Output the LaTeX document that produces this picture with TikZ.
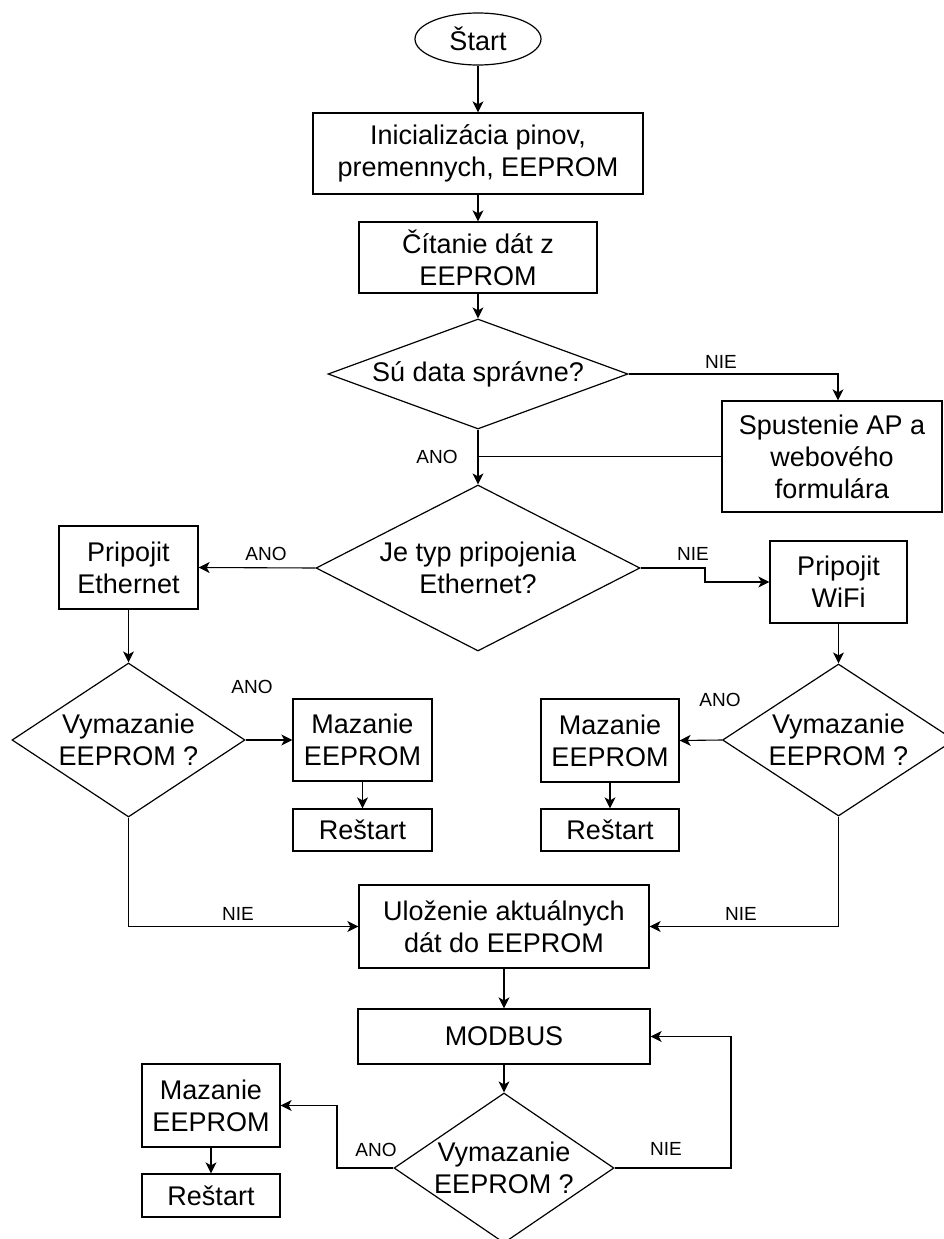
\documentclass[tikz,border=0pt]{standalone}
\usepackage{fontspec}
\setmainfont{Liberation Sans}
\usetikzlibrary{shapes.geometric,arrows.meta}
\newcommand\bxfont{\fontsize{27}{32}\selectfont}
\newcommand\lbfont{\fontsize{19}{22}\selectfont}
\begin{document}
\begin{tikzpicture}[x=1pt,y=-1pt,
  box/.style={draw, line width=1.3pt, rectangle, inner sep=0pt, align=center, font=\bxfont},
  startel/.style={draw, line width=1.2pt, ellipse, inner sep=0pt, font=\bxfont},
  dia/.style={draw, line width=1.2pt, diamond, inner sep=0pt},
  dtext/.style={align=center, font=\bxfont, inner sep=0pt},
  lbl/.style={font=\lbfont, inner sep=0pt},
  arr/.style={draw, line width=1.1pt, -{Stealth[length=11pt,width=11pt,inset=3pt]}},
  ln/.style={draw, line width=1.1pt}]
\useasboundingbox (0,0) rectangle (943,1239);

% nodes
\node[startel, minimum width=126pt, minimum height=52pt] (start) at (478,39) {Štart};
\node[box, minimum width=330pt, minimum height=81pt] (init) at (478,153.5) {Inicializácia pinov,\\premennych, EEPROM};
\node[box, minimum width=238pt, minimum height=71pt] (read) at (478,257.5) {Čítanie dát z\\EEPROM};
\node[dia, minimum width=300pt, minimum height=110pt, label={[dtext]center:{Sú data správne?}}] (d1) at (478,374) {};
\node[box, minimum width=220pt, minimum height=111pt] (ap) at (832,456.5) {Spustenie AP a\\webového\\formulára};
\node[dia, minimum width=324pt, minimum height=166pt, label={[dtext]center:{Je typ pripojenia\\Ethernet?}}] (d2) at (478,568) {};
\node[box, minimum width=139pt, minimum height=83pt] (eth) at (128.5,567.5) {Pripojit\\Ethernet};
\node[box, minimum width=137pt, minimum height=82pt] (wifi) at (838.5,582) {Pripojit\\WiFi};
\node[dia, minimum width=233pt, minimum height=154pt, label={[dtext]center:{Vymazanie\\EEPROM ?}}] (d3) at (128.5,740) {};
\node[box, minimum width=139pt, minimum height=82pt] (mazL) at (362.5,740) {Mazanie\\EEPROM};
\node[box, minimum width=139pt, minimum height=42pt] (resL) at (362.5,830) {Reštart};
\node[dia, minimum width=232pt, minimum height=152pt, label={[dtext]center:{Vymazanie\\EEPROM ?}}] (d4) at (838.5,740) {};
\node[box, minimum width=138pt, minimum height=83pt] (mazR) at (610,740.5) {Mazanie\\EEPROM};
\node[box, minimum width=138pt, minimum height=42pt] (resR) at (610,830) {Reštart};
\node[box, minimum width=290pt, minimum height=83pt] (ulo) at (504,926.5) {Uloženie aktuálnych\\dát do EEPROM};
\node[box, minimum width=292pt, minimum height=55pt] (mod) at (504,1036.5) {MODBUS};
\node[dia, minimum width=220pt, minimum height=150pt, label={[dtext]center:{Vymazanie\\EEPROM ?}}] (d5) at (504,1168) {};
\node[box, minimum width=138pt, minimum height=83pt] (mazB) at (211,1105.5) {Mazanie\\EEPROM};
\node[box, minimum width=138pt, minimum height=43pt] (resB) at (211,1195.5) {Reštart};

% connectors
\draw[arr] (start) -- (init);
\draw[arr] (init) -- (read);
\draw[arr] (read.south) -- (d1.north);
\draw[arr] (d1.east) -| ([xshift=6pt]ap.north);
\node[lbl] (nie1) at (721,362) {NIE};
\draw[ln] (ap.west) -- (ap.west -| d1.south);
\draw[arr] (d1.south) -- (d2.north);
\node[lbl] (ano1) at (437,457) {ANO};
\draw[arr] (d2.west) -- (eth.east);
\node[lbl] (ano2) at (266,554) {ANO};
\coordinate (j1) at (705,568);
\draw[arr] (d2.east) -- (j1) |- (wifi.west);
\node[lbl] (nie2) at (693,554) {NIE};
\draw[arr] (eth.south) -- (d3.north);
\draw[arr] (d3.east) -- (mazL.west);
\node[lbl] (ano3) at (252,687) {ANO};
\draw[arr] (mazL) -- (resL);
\draw[arr] (wifi.south) -- (d4.north);
\draw[arr] (d4.west) -- (mazR.east);
\node[lbl] (ano4) at (720,700) {ANO};
\draw[arr] (mazR) -- (resR);
\draw[arr] (d3.south) |- (ulo.west);
\node[lbl] (nie3) at (238,914) {NIE};
\draw[arr] (d4.south) |- (ulo.east);
\node[lbl] (nie4) at (741,914) {NIE};
\draw[arr] (ulo) -- (mod);
\draw[arr] (mod.south) -- (d5.north);
\coordinate (j2) at (731,1168);
\draw[arr] (d5.east) -- (j2) |- (mod.east);
\node[lbl] (nie5) at (666,1149) {NIE};
\coordinate (j3) at (337,1168);
\draw[arr] (d5.west) -- (j3) |- (mazB.east);
\node[lbl] (ano5) at (376,1150) {ANO};
\draw[arr] (mazB) -- (resB);
\end{tikzpicture}
\end{document}
